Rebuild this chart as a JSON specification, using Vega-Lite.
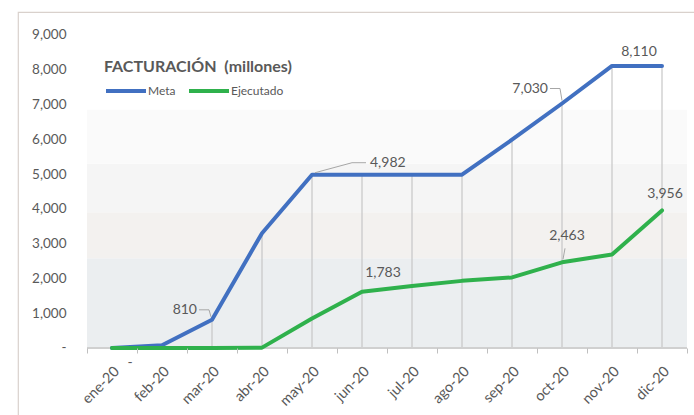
{
  "$schema": "https://vega.github.io/schema/vega-lite/v6.json",
  "autosize": {"type": "none"},
  "padding": {"left": 18, "top": 12, "right": 0, "bottom": 0},
  "width": 680,
  "height": 410,
  "background": "#ffffff",
  "config": {
    "view": {"stroke": "#d9d1cc", "strokeWidth": 1.2},
    "font": "Lato",
    "text": {"font": "Lato", "fontSize": 14, "fill": "#595959"}
  },
  "datasets": {
    "meses": [
      {"mes": "ene-20", "Meta": 0, "Ejecutado": 0},
      {"mes": "feb-20", "Meta": 80, "Ejecutado": 0},
      {"mes": "mar-20", "Meta": 810, "Ejecutado": 0},
      {"mes": "abr-20", "Meta": 3300, "Ejecutado": 10},
      {"mes": "may-20", "Meta": 4982, "Ejecutado": 850},
      {"mes": "jun-20", "Meta": 4982, "Ejecutado": 1620},
      {"mes": "jul-20", "Meta": 4982, "Ejecutado": 1783},
      {"mes": "ago-20", "Meta": 4982, "Ejecutado": 1930},
      {"mes": "sep-20", "Meta": 5990, "Ejecutado": 2030},
      {"mes": "oct-20", "Meta": 7030, "Ejecutado": 2463},
      {"mes": "nov-20", "Meta": 8110, "Ejecutado": 2690},
      {"mes": "dic-20", "Meta": 8110, "Ejecutado": 3956}
    ],
    "bandas": [
      {"desde": 0, "hasta": 2580, "banda": "b1"},
      {"desde": 2580, "hasta": 3900, "banda": "b2"},
      {"desde": 3900, "hasta": 5300, "banda": "b3"},
      {"desde": 5300, "hasta": 6850, "banda": "b4"}
    ]
  },
  "data": {"name": "meses"},
  "encoding": {
    "x": {
      "field": "mes", "type": "nominal", "title": null,
      "scale": {
        "type": "band",
        "domain": ["ene-20","feb-20","mar-20","abr-20","may-20","jun-20","jul-20","ago-20","sep-20","oct-20","nov-20","dic-20"],
        "paddingInner": 0, "paddingOuter": 0.8, "align": 0.8625
      },
      "axis": {
        "orient": "bottom", "offset": -74, "domain": false,
        "tickBand": "extent", "tickSize": 5, "tickColor": "#bfbfbf",
        "labelAngle": -45, "labelFontSize": 14.5, "labelColor": "#595959",
        "labelFont": "Lato", "labelPadding": 11, "grid": false
      }
    }
  },
  "layer": [
    {
      "data": {"name": "bandas"},
      "mark": {"type": "rect"},
      "encoding": {
        "x": {"datum": "ene-20", "bandPosition": 0},
        "x2": {"datum": "dic-20", "bandPosition": 1},
        "y": {"field": "desde", "type": "quantitative", "title": null},
        "y2": {"field": "hasta"},
        "fill": {"field": "banda", "type": "nominal", "legend": null,
          "scale": {"domain": ["b1","b2","b3","b4"], "range": ["#ebeef0","#f3f1ef","#f5f5f5","#fafafa"]}}
      }
    },
    {
      "mark": {"type": "rule", "color": "#c6c6c6", "strokeWidth": 1.2},
      "encoding": {
        "y": {"field": "Meta", "type": "quantitative", "title": null},
        "y2": {"datum": 0}
      }
    },
    {
      "mark": {"type": "rule", "color": "#d0d0d0", "strokeWidth": 1.2},
      "encoding": {
        "x": {"datum": "ene-20", "bandPosition": 0},
        "x2": {"datum": "dic-20", "bandPosition": 1},
        "y": {"datum": 0, "type": "quantitative"}
      }
    },
    {
      "transform": [{"fold": ["Meta", "Ejecutado"], "as": ["serie", "valor"]}],
      "mark": {"type": "line", "strokeWidth": 4, "strokeCap": "round", "strokeJoin": "round"},
      "encoding": {
        "y": {
          "field": "valor", "type": "quantitative", "title": null,
          "scale": {"domain": [-2128, 9661], "nice": false, "zero": false},
          "axis": {
            "orient": "left", "offset": -49, "domain": false, "ticks": false, "grid": false,
            "values": [0,1000,2000,3000,4000,5000,6000,7000,8000,9000],
            "labelExpr": "datum.value == 0 ? '-' : format(datum.value, ',')",
            "labelFontSize": 13.5, "labelColor": "#595959", "labelFont": "Lato", "labelPadding": 1
          }
        },
        "stroke": {
          "field": "serie", "type": "nominal",
          "scale": {"domain": ["Meta", "Ejecutado"], "range": ["#4170c1", "#2fb14c"]},
          "legend": {
            "orient": "none", "legendX": 86, "legendY": 47, "direction": "horizontal",
            "title": "FACTURACIÓN\u00a0 (millones)", "titleFont": "Lato", "titleFontSize": 16,
            "titleFontWeight": "bold", "titleColor": "#595959", "titlePadding": -6, "titleLimit": 400,
            "symbolType": "stroke", "symbolSize": 1600, "symbolStrokeWidth": 4,
            "labelFont": "Lato", "labelFontSize": 12, "labelColor": "#595959",
            "labelOffset": 0, "columnPadding": 5
          }
        }
      }
    },
    {
      "transform": [{"filter": "datum.mes === 'mar-20'"}],
      "mark": {"type": "text", "align": "right", "baseline": "middle", "dx": -15, "dy": -10},
      "encoding": {"y": {"field": "Meta", "type": "quantitative", "title": null}, "text": {"field": "Meta", "format": ","}}
    },
    {
      "transform": [{"filter": "datum.mes === 'may-20'"}],
      "mark": {"type": "text", "align": "left", "baseline": "middle", "dx": 58, "dy": -12},
      "encoding": {"y": {"field": "Meta", "type": "quantitative", "title": null}, "text": {"field": "Meta", "format": ","}}
    },
    {
      "transform": [{"filter": "datum.mes === 'oct-20'"}],
      "mark": {"type": "text", "align": "right", "baseline": "middle", "dx": -14, "dy": -15},
      "encoding": {"y": {"field": "Meta", "type": "quantitative", "title": null}, "text": {"field": "Meta", "format": ","}}
    },
    {
      "transform": [{"filter": "datum.mes === 'nov-20'"}],
      "mark": {"type": "text", "align": "center", "baseline": "middle", "dx": 27, "dy": -14},
      "encoding": {"y": {"field": "Meta", "type": "quantitative", "title": null}, "text": {"field": "Meta", "format": ","}}
    },
    {
      "transform": [{"filter": "datum.mes === 'jul-20'"}],
      "mark": {"type": "text", "align": "center", "baseline": "middle", "dx": -29, "dy": -13},
      "encoding": {"y": {"field": "Ejecutado", "type": "quantitative", "title": null}, "text": {"field": "Ejecutado", "format": ","}}
    },
    {
      "transform": [{"filter": "datum.mes === 'oct-20'"}],
      "mark": {"type": "text", "align": "center", "baseline": "middle", "dx": 5, "dy": -26},
      "encoding": {"y": {"field": "Ejecutado", "type": "quantitative", "title": null}, "text": {"field": "Ejecutado", "format": ","}}
    },
    {
      "transform": [{"filter": "datum.mes === 'dic-20'"}],
      "mark": {"type": "text", "align": "center", "baseline": "middle", "dx": 3, "dy": -16},
      "encoding": {"y": {"field": "Ejecutado", "type": "quantitative", "title": null}, "text": {"field": "Ejecutado", "format": ","}}
    },
    {
      "transform": [{"filter": "datum.mes === 'ene-20'"}],
      "mark": {"type": "text", "align": "center", "baseline": "middle", "dx": 18, "dy": 15},
      "encoding": {"y": {"field": "Ejecutado", "type": "quantitative", "title": null}, "text": {"value": "-"}}
    },
    {
      "transform": [{"filter": "datum.mes === 'mar-20'"}],
      "mark": {"type": "rule", "color": "#a6a6a6", "strokeWidth": 1, "xOffset": -13, "x2Offset": -3, "yOffset": -10, "y2Offset": -10},
      "encoding": {"x2": {"field": "mes"}, "y": {"field": "Meta", "type": "quantitative", "title": null}, "y2": {"field": "Meta"}}
    },
    {
      "transform": [{"filter": "datum.mes === 'mar-20'"}],
      "mark": {"type": "rule", "color": "#a6a6a6", "strokeWidth": 1, "xOffset": -3, "x2Offset": -1, "yOffset": -10, "y2Offset": -3},
      "encoding": {"x2": {"field": "mes"}, "y": {"field": "Meta", "type": "quantitative", "title": null}, "y2": {"field": "Meta"}}
    },
    {
      "transform": [{"filter": "datum.mes === 'may-20'"}],
      "mark": {"type": "rule", "color": "#a6a6a6", "strokeWidth": 1, "xOffset": 3, "x2Offset": 40, "yOffset": -2, "y2Offset": -12},
      "encoding": {"x2": {"field": "mes"}, "y": {"field": "Meta", "type": "quantitative", "title": null}, "y2": {"field": "Meta"}}
    },
    {
      "transform": [{"filter": "datum.mes === 'may-20'"}],
      "mark": {"type": "rule", "color": "#a6a6a6", "strokeWidth": 1, "xOffset": 40, "x2Offset": 54, "yOffset": -12, "y2Offset": -12},
      "encoding": {"x2": {"field": "mes"}, "y": {"field": "Meta", "type": "quantitative", "title": null}, "y2": {"field": "Meta"}}
    },
    {
      "transform": [{"filter": "datum.mes === 'oct-20'"}],
      "mark": {"type": "rule", "color": "#a6a6a6", "strokeWidth": 1, "xOffset": -12, "x2Offset": -2, "yOffset": -15, "y2Offset": -15},
      "encoding": {"x2": {"field": "mes"}, "y": {"field": "Meta", "type": "quantitative", "title": null}, "y2": {"field": "Meta"}}
    },
    {
      "transform": [{"filter": "datum.mes === 'oct-20'"}],
      "mark": {"type": "rule", "color": "#a6a6a6", "strokeWidth": 1, "xOffset": -2, "x2Offset": 0, "yOffset": -15, "y2Offset": -3},
      "encoding": {"x2": {"field": "mes"}, "y": {"field": "Meta", "type": "quantitative", "title": null}, "y2": {"field": "Meta"}}
    },
    {
      "transform": [{"filter": "datum.mes === 'oct-20'"}],
      "mark": {"type": "rule", "color": "#a6a6a6", "strokeWidth": 1, "xOffset": 3, "x2Offset": 1, "yOffset": -14, "y2Offset": -3},
      "encoding": {"x2": {"field": "mes"}, "y": {"field": "Ejecutado", "type": "quantitative", "title": null}, "y2": {"field": "Ejecutado"}}
    }
  ]
}
